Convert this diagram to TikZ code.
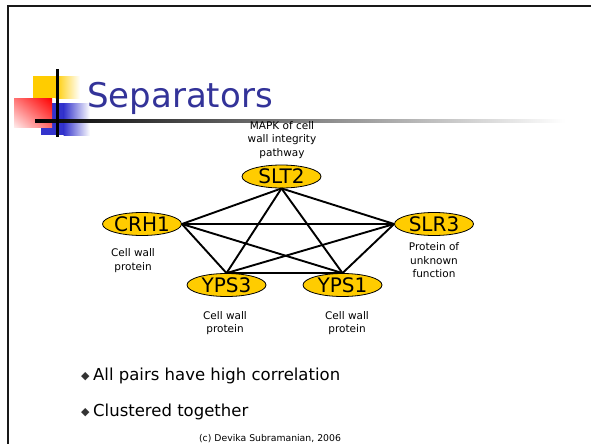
\documentclass[tikz,border=0pt]{standalone}
\usepackage{fontspec}
\setmainfont{DejaVu Sans}
\usetikzlibrary{shapes.geometric,shadings}
\definecolor{gold}{HTML}{FFCC00}
\definecolor{titleblue}{HTML}{333399}
\definecolor{logoblue}{HTML}{3333CC}
\tikzset{
  gene/.style={ellipse, draw=black, line width=0.8pt, fill=gold,
    minimum width=79pt, minimum height=23pt, inner sep=0pt,
    font=\fontsize{20}{22}\selectfont},
  link/.style={line width=1.9pt, black},
  note/.style={align=center, inner sep=0pt, font=\fontsize{10.5}{13.5}\selectfont},
  point/.style={anchor=west, inner sep=0pt, font=\fontsize{16.5}{20}\selectfont},
  bullet/.style={anchor=west, inner sep=0pt, font=\fontsize{11}{12}\selectfont, text=black!80}
}
\begin{document}
\begin{tikzpicture}[x=1pt,y=-1pt]
\useasboundingbox (0,0) rectangle (591,444);
\fill[white] (0,0) rectangle (591,444);

% slide frame
\draw[line width=2.3pt, black!90] (591,6.2) -- (8,6.2) -- (8,444);

% title logo
\fill[gold] (33,76) rectangle (56,98);
\shade[left color=gold, right color=white] (55.5,76) rectangle (80,98);
\fill[logoblue] (41,103) rectangle (64,135);
\shade[left color=logoblue, right color=white] (63.5,103) rectangle (90,135);
\shade[upper left=red!55, upper right=red, lower left=red!8, lower right=red!60] (14,98) rectangle (52,127);
\shade[left color=black, right color=white] (35,119.6) rectangle (565,122.6);
\draw[line width=2.5pt] (57.5,69) -- (57.5,137);

% title
\node[anchor=base west, inner sep=0pt, text=titleblue, font=\fontsize{34}{40}\selectfont]
  (title) at (87,107) {Separators};

% genes
\node[gene] (slt) at (281.5,176.5) {SLT2};
\node[gene] (crh) at (142,224) {CRH1};
\node[gene] (slr) at (434,224) {SLR3};
\node[gene] (yps3) at (226.5,285) {YPS3};
\node[gene] (yps1) at (342.5,285) {YPS1};

% correlations
\draw[link] (slt.south) -- (crh.east);
\draw[link] (slt.south) -- (slr.west);
\draw[link] (slt.south) -- (yps3.north);
\draw[link] (slt.south) -- (yps1.north);
\draw[link] (crh.east) -- (slr.west);
\draw[link] (crh.east) -- (yps3.north);
\draw[link] (crh.east) -- (yps1.north);
\draw[link] (slr.west) -- (yps3.north);
\draw[link] (slr.west) -- (yps1.north);
\draw[link] (yps3.north) -- (yps1.north);

% annotations
\node[note] (sltnote) at (282,140) {MAPK of cell\\wall integrity\\pathway};
\node[note] (crhnote) at (133,260.5) {Cell wall\\protein};
\node[note] (slrnote) at (434,260.5) {Protein of\\unknown\\function};
\node[note] (yps3note) at (225,323) {Cell wall\\protein};
\node[note] (yps1note) at (347,323) {Cell wall\\protein};

% bullet points
\node[bullet] (b1) at (81,377) {◆};
\node[point] (p1) at (93,376) {All pairs have high correlation};
\node[bullet] (b2) at (81,413) {◆};
\node[point] (p2) at (93,412) {Clustered together};

% footer
\node[inner sep=0pt, font=\fontsize{9.3}{11}\selectfont] (foot) at (270,438.5)
  {(c) Devika Subramanian, 2006};
\end{tikzpicture}
\end{document}
